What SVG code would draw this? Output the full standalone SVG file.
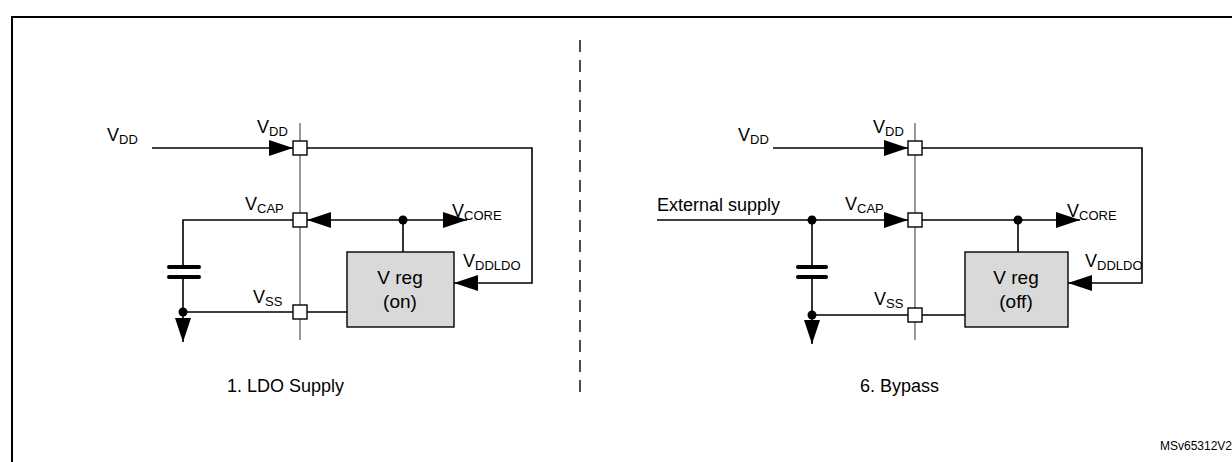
<svg xmlns="http://www.w3.org/2000/svg" width="1232" height="462" viewBox="0 0 1232 462">
<defs>
<marker id="ah" viewBox="0 0 24 16" refX="24" refY="8" markerWidth="24" markerHeight="16" markerUnits="userSpaceOnUse" orient="auto"><path d="M0,0 L24,8 L0,16 z" fill="#000"/></marker>
<style>
text{font-family:"Liberation Sans",Arial,sans-serif;font-size:18px;fill:#000}
.sub{font-size:13px}
.w{stroke:#000;stroke-width:1.6;fill:none}
.bus{stroke:#555;stroke-width:1.2}
.pin{fill:#fff;stroke:#000;stroke-width:1.4}
.box{fill:#d9d9d9;stroke:#000;stroke-width:1.4}
.cap{stroke:#000;stroke-width:4;stroke-linecap:round}
</style>
</defs>
<rect width="1232" height="462" fill="#fff"/>
<rect x="12" y="17" width="1230" height="460" fill="none" stroke="#000" stroke-width="2"/>
<line x1="580" y1="40" x2="580" y2="395" stroke="#000" stroke-width="1.4" stroke-dasharray="12,8"/>
<g id="connectors">
<line class="bus" x1="300" y1="123" x2="300" y2="340"/>
<line class="w" x1="152" y1="148" x2="293" y2="148" marker-end="url(#ah)"/>
<polyline class="w" points="307,148 532,148 532,283 454,283" marker-end="url(#ah)"/>
<polyline class="w" points="293,220 183,220 183,267"/>
<line class="cap" x1="169" y1="267" x2="199" y2="267"/>
<line class="cap" x1="169" y1="277" x2="199" y2="277"/>
<line class="w" x1="183" y1="277" x2="183" y2="312"/>
<line class="w" x1="183" y1="312" x2="183" y2="342" marker-end="url(#ah)"/>
<line class="w" x1="183" y1="312" x2="293" y2="312"/>
<line class="w" x1="307" y1="312" x2="347" y2="312"/>
<line class="w" x1="403" y1="220" x2="307" y2="220" marker-end="url(#ah)"/>
<line class="w" x1="403" y1="220" x2="467" y2="220" marker-end="url(#ah)"/>
<line class="w" x1="403" y1="220" x2="403" y2="252"/>
<circle cx="403" cy="220" r="4.5"/>
<circle cx="183" cy="312" r="4.5"/>
<line class="bus" x1="915" y1="123" x2="915" y2="340"/>
<line class="w" x1="773" y1="148" x2="908" y2="148" marker-end="url(#ah)"/>
<polyline class="w" points="922,148 1142,148 1142,283 1068,283" marker-end="url(#ah)"/>
<line class="w" x1="657" y1="220" x2="908" y2="220" marker-end="url(#ah)"/>
<line class="w" x1="812" y1="220" x2="812" y2="267"/>
<line class="cap" x1="798" y1="267" x2="826" y2="267"/>
<line class="cap" x1="798" y1="277" x2="826" y2="277"/>
<line class="w" x1="812" y1="277" x2="812" y2="315"/>
<line class="w" x1="812" y1="315" x2="812" y2="344" marker-end="url(#ah)"/>
<line class="w" x1="812" y1="315" x2="908" y2="315"/>
<line class="w" x1="922" y1="315" x2="965" y2="315"/>
<line class="w" x1="922" y1="220" x2="1080" y2="220" marker-end="url(#ah)"/>
<line class="w" x1="1018" y1="220" x2="1018" y2="252"/>
<circle cx="812" cy="220" r="4.5"/>
<circle cx="1018" cy="220" r="4.5"/>
<circle cx="812" cy="315" r="4.5"/>
</g>
<g id="left-pins">
<rect class="pin" x="293" y="141" width="14" height="14"/>
<rect class="pin" x="293" y="213" width="14" height="14"/>
<rect class="pin" x="293" y="305" width="14" height="14"/>
</g>
<g id="vreg-on"><rect class="box" x="347" y="252" width="107" height="75"/>
<text x="400" y="284" text-anchor="middle" style="font-size:19px">V reg</text>
<text x="400" y="308" text-anchor="middle" style="font-size:19px">(on)</text></g>
<g id="right-pins">
<rect class="pin" x="908" y="141" width="14" height="14"/>
<rect class="pin" x="908" y="213" width="14" height="14"/>
<rect class="pin" x="908" y="308" width="14" height="14"/>
</g>
<g id="vreg-off"><rect class="box" x="965" y="252" width="103" height="75"/>
<text x="1016" y="284" text-anchor="middle" style="font-size:19px">V reg</text>
<text x="1016" y="308" text-anchor="middle" style="font-size:19px">(off)</text></g>
<g id="labels">
<text x="107" y="141">V<tspan class="sub" dy="3">DD</tspan></text>
<text x="257" y="133">V<tspan class="sub" dy="3">DD</tspan></text>
<text x="245" y="210">V<tspan class="sub" dy="3">CAP</tspan></text>
<text x="452" y="217">V<tspan class="sub" dy="3">CORE</tspan></text>
<text x="463" y="267">V<tspan class="sub" dy="3">DDLDO</tspan></text>
<text x="253" y="303">V<tspan class="sub" dy="3">SS</tspan></text>
<text x="227" y="392">1. LDO Supply</text>
<text x="738" y="141">V<tspan class="sub" dy="3">DD</tspan></text>
<text x="873" y="133">V<tspan class="sub" dy="3">DD</tspan></text>
<text x="657" y="211">External supply</text>
<text x="845" y="210">V<tspan class="sub" dy="3">CAP</tspan></text>
<text x="1067" y="217">V<tspan class="sub" dy="3">CORE</tspan></text>
<text x="1085" y="267">V<tspan class="sub" dy="3">DDLDO</tspan></text>
<text x="874" y="305">V<tspan class="sub" dy="3">SS</tspan></text>
<text x="860" y="392">6. Bypass</text>
<text x="1160" y="450" style="font-size:12px">MSv65312V2</text>
</g>
</svg>
